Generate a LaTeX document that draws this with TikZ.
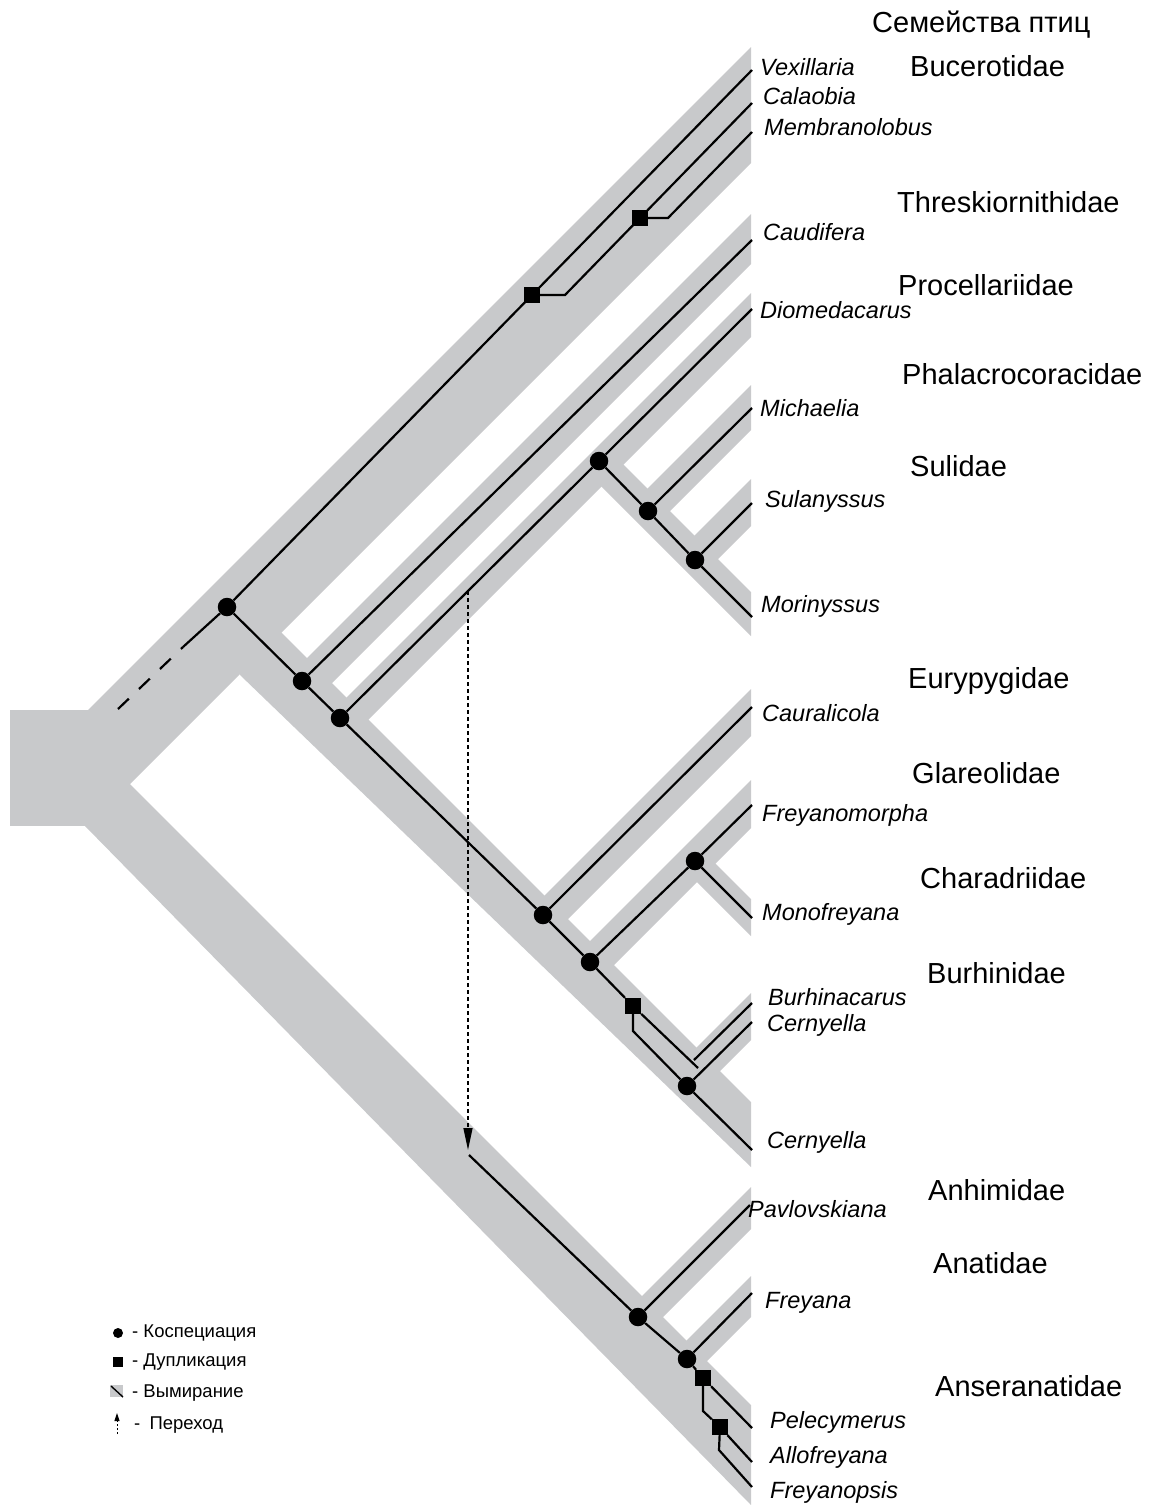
\documentclass[tikz,border=0pt]{standalone}
\usepackage{fontspec}
\setmainfont{Liberation Sans}
\usetikzlibrary{arrows.meta,calc}
\definecolor{hostgrey}{RGB}{200,201,203}

% host branch going up-right: band x+y in [#1,#2], rooted where y-x = #3
\newcommand\hostup[3]{%
  \fill[host] ({(#1-#3)/2},{(#1+#3)/2}) -- (751,{#1-751}) -- (751,{#2-751})
    -- ({(#2-#3)/2},{(#2+#3)/2}) -- cycle;}
% host branch going down-right: band y-x in [#1,#2], rooted where x+y = #3
\newcommand\hostdown[3]{%
  \fill[host] ({(#3-#1)/2},{(#3+#1)/2}) -- (751,{751+#1}) -- (751,{751+#2})
    -- ({(#3-#2)/2},{(#3+#2)/2}) -- cycle;}

\tikzset{
  host/.style={fill=hostgrey, draw=none},
  para/.style={line width=2.2pt, line join=miter, line cap=butt},
  cosp/.style={circle, fill=black, inner sep=0pt, minimum size=18.5pt},
  dupl/.style={rectangle, fill=black, inner sep=0pt, minimum size=16pt},
  leaf/.style={inner sep=0pt, font=\fontsize{23.5}{26}\selectfont\itshape, anchor=base west},
  fam/.style={inner sep=0pt, font=\fontsize{29}{32}\selectfont, anchor=base west},
  legtext/.style={inner sep=0pt, font=\fontsize{18.5}{21}\selectfont, anchor=west},
  transfer/.style={line width=1.4pt, dash pattern=on 4pt off 3pt},
}

\begin{document}
\begin{tikzpicture}[x=1pt, y=-1pt]
\useasboundingbox (0,0) rectangle (1154,1505);

% ---------------- host tree (bird families) ----------------
\fill[host] (10,710) rectangle (88,826);
\fill[host] (88,710) -- (751,47) -- (751,163) -- (88,826) -- cycle;   % stem + Bucerotidae
\fill[host] (250,601) -- (751,1102) -- (751,1167) -- (240,675) -- cycle; % Neoaves spine
\fill[host] (88,742) -- (751,1405) -- (751,1505) -- (85,826) -- cycle;  % Galloanserae
\hostup{965}{1015}{385}    % Threskiornithidae
\hostup{1044}{1088}{385}   % Procellariidae
\hostdown{-159}{-115}{1066}% Phalacrocoracidae + Sulidae
\hostup{1136}{1181}{-137}  % Phalacrocoracidae
\hostup{1230}{1277}{-137}  % Sulidae
\hostup{1440}{1487}{385}   % Eurypygidae
\hostup{1531}{1579}{385}   % Glareolidae
\hostdown{148}{185}{1555}  % Charadriidae
\hostup{1744}{1791}{385}   % Burhinidae
\hostup{1938}{1980}{700}   % Anhimidae
\hostup{2027}{2068}{700}   % Anatidae

% ---------------- parasite tree ----------------
\coordinate (rootP) at (118,709);
\coordinate (rootS) at (183,647);
\node[cosp] (c1) at (227,607) {};
\coordinate (vex) at (752,70);
\node[dupl] (d1) at (532,295) {};
\coordinate (d1k) at (565,295);
\coordinate (cal) at (752,103);
\node[dupl] (d2) at (640,218) {};
\coordinate (d2k) at (668,218);
\coordinate (mem) at (752,132);
\node[cosp] (c2) at (302,681) {};
\coordinate (cau) at (752,240);
\node[cosp] (c3) at (340,718) {};
\coordinate (sw) at (468,591);
\node[cosp] (c4) at (599,461) {};
\coordinate (dio) at (752,309);
\node[cosp] (c5) at (648,511) {};
\coordinate (mic) at (752,408);
\node[cosp] (c6) at (695,560) {};
\coordinate (sul) at (752,503);
\coordinate (mor) at (752,617);
\node[cosp] (c7) at (543,915) {};
\coordinate (caur) at (752,707);
\node[cosp] (c8) at (590,962) {};
\node[cosp] (c9) at (695,861) {};
\coordinate (fmo) at (752,805);
\coordinate (mon) at (752,918);
\node[dupl] (d3) at (633,1006) {};
\coordinate (d3x) at (698,1068);
\coordinate (d3k) at (633,1031);
\node[cosp] (c10) at (687,1086) {};
\coordinate (bu0) at (694,1060);
\coordinate (bur) at (752,1003);
\coordinate (cer1) at (752,1022);
\coordinate (cer2) at (752,1150);
\coordinate (swEnd) at (468,1150);
\coordinate (swStart) at (469,1155);
\node[cosp] (c11) at (638,1317) {};
\coordinate (pav) at (750,1205);
\node[cosp] (c12) at (687,1359) {};
\coordinate (fre) at (752,1293);
\node[dupl] (d4) at (703,1378) {};
\coordinate (pel) at (752,1428);
\coordinate (d4k) at (703,1411);
\node[dupl] (d5) at (720,1427) {};
\coordinate (all) at (752,1462);
\coordinate (d5k) at (719,1450);
\coordinate (fps) at (752,1487);

\draw[para, dash pattern=on 15pt off 14pt] (rootP) -- (rootS);
\draw[para] (rootS) -- (c1) -- (vex);
\draw[para] (d1) -- (d1k) -- (cal);
\draw[para] (d2) -- (d2k) -- (mem);
\draw[para] (c1) -- (c2) -- (c3) -- (c7) -- (c8) -- (d3) -- (d3x);
\draw[para] (c2) -- (cau);
\draw[para] (c3) -- (c4) -- (dio);
\draw[para] (c4) -- (c5) -- (c6) -- (mor);
\draw[para] (c5) -- (mic);
\draw[para] (c6) -- (sul);
\draw[para] (c7) -- (caur);
\draw[para] (c8) -- (c9) -- (fmo);
\draw[para] (c9) -- (mon);
\draw[para] (d3) -- (d3k) -- (c10) -- (cer2);
\draw[para] (c10) -- (cer1);
\draw[para] (bu0) -- (bur);
\draw[transfer, -{Triangle[length=22pt,width=9pt]}] (sw) -- (swEnd);
\draw[para] (swStart) -- (c11) -- (c12) -- (d4) -- (pel);
\draw[para] (c11) -- (pav);
\draw[para] (c12) -- (fre);
\draw[para] (d4) -- (d4k) -- (d5) -- (all);
\draw[para] (d5) -- (d5k) -- (fps);

% ---------------- labels ----------------
\node[fam] (tTitle) at (872,32) {Семейства птиц};
\node[fam] (fBuc) at (910,76) {Bucerotidae};
\node[fam] (fThr) at (897,212) {Threskiornithidae};
\node[fam] (fPro) at (898,295) {Procellariidae};
\node[fam] (fPha) at (902,384) {Phalacrocoracidae};
\node[fam] (fSul) at (910,476) {Sulidae};
\node[fam] (fEur) at (908,688) {Eurypygidae};
\node[fam] (fGla) at (912,783) {Glareolidae};
\node[fam] (fCha) at (920,888) {Charadriidae};
\node[fam] (fBur) at (927,983) {Burhinidae};
\node[fam] (fAnh) at (928,1200) {Anhimidae};
\node[fam] (fAna) at (933,1273) {Anatidae};
\node[fam] (fAns) at (935,1396) {Anseranatidae};

\node[leaf] (lVex) at (760,75) {Vexillaria};
\node[leaf] (lCal) at (763,104) {Calaobia};
\node[leaf] (lMem) at (764,135) {Membranolobus};
\node[leaf] (lCau) at (763,240) {Caudifera};
\node[leaf] (lDio) at (760,318) {Diomedacarus};
\node[leaf] (lMic) at (760,416) {Michaelia};
\node[leaf] (lSul) at (765,507) {Sulanyssus};
\node[leaf] (lMor) at (761,612) {Morinyssus};
\node[leaf] (lCaur) at (762,721) {Cauralicola};
\node[leaf] (lFmo) at (762,821) {Freyanomorpha};
\node[leaf] (lMon) at (762,920) {Monofreyana};
\node[leaf] (lBur) at (768,1005) {Burhinacarus};
\node[leaf] (lCer1) at (767,1031) {Cernyella};
\node[leaf] (lCer2) at (767,1148) {Cernyella};
\node[leaf] (lPav) at (748,1217) {Pavlovskiana};
\node[leaf] (lFre) at (765,1308) {Freyana};
\node[leaf] (lPel) at (770,1428) {Pelecymerus};
\node[leaf] (lAll) at (770,1463) {Allofreyana};
\node[leaf] (lFps) at (770,1498) {Freyanopsis};

% ---------------- legend ----------------
\node[circle, fill=black, inner sep=0pt, minimum size=10pt] (kCo) at (118,1333) {};
\node[legtext] (kCoT) at (132,1333) {- Коспециация};
\node[rectangle, fill=black, inner sep=0pt, minimum size=10pt] (kDu) at (118,1362) {};
\node[legtext] (kDuT) at (132,1362) {- Дупликация};
\fill[hostgrey] (110,1385) rectangle (123,1397);
\draw[line width=1.4pt] (111,1386) -- (123,1397);
\node[legtext] (kExT) at (132,1393) {- Вымирание};
\coordinate (kTrA) at (117,1434);
\coordinate (kTrB) at (117,1413);
\draw[line width=1pt, dash pattern=on 2pt off 2pt, -{Triangle[length=8pt,width=5pt]}] (kTrA) -- (kTrB);
\node[legtext] (kTrT) at (134,1425) {-\enspace Переход};
\end{tikzpicture}
\end{document}
